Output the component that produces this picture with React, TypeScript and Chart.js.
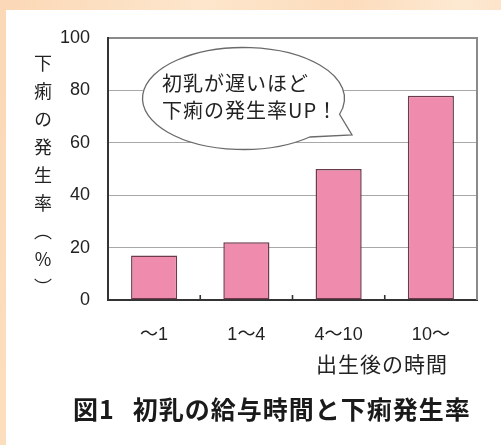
import React, { useEffect, useRef } from "react";
import { Chart, registerables } from "chart.js";

Chart.register(...registerables);

const categories = ["〜1", "1〜4", "4〜10", "10〜"];
const rates = [17, 22, 50, 78];
const yTicks = [0, 20, 40, 60, 80, 100];
const yTitle = "下痢の発生率（%）";
const xTitle = "出生後の時間";
const bubbleLines = ["初乳が遅いほど", "下痢の発生率UP！"];
const captionHead = "図1";
const captionBody = "初乳の給与時間と下痢発生率";

const decorPlugin = {
  id: "decor",
  afterDatasetsDraw(chart: any) {
    const { ctx, chartArea, scales } = chart;
    const x = scales.x;
    ctx.save();
    // right frame line
    ctx.strokeStyle = "#8a8a8a";
    ctx.lineWidth = 2;
    ctx.beginPath();
    ctx.moveTo(chartArea.right, chartArea.top - 1);
    ctx.lineTo(chartArea.right, chartArea.bottom);
    ctx.stroke();
    // inner ticks at category boundaries
    ctx.strokeStyle = "#333";
    ctx.lineWidth = 1.6;
    for (let i = 0; i < categories.length - 1; i++) {
      const bx = (x.getPixelForValue(i) + x.getPixelForValue(i + 1)) / 2;
      ctx.beginPath();
      ctx.moveTo(bx, chartArea.bottom - 5);
      ctx.lineTo(bx, chartArea.bottom);
      ctx.stroke();
    }
    // speech bubble
    const cx = 243.5, cy = 98.5, rx = 101, ry = 51;
    const a1 = (18 * Math.PI) / 180;
    const a2 = (49 * Math.PI) / 180;
    ctx.beginPath();
    ctx.ellipse(cx, cy, rx, ry, 0, a2, a1 + Math.PI * 2, false);
    ctx.lineTo(352, 135);
    ctx.closePath();
    ctx.fillStyle = "#ffffff";
    ctx.fill();
    ctx.strokeStyle = "#6a6a6a";
    ctx.lineWidth = 1.3;
    ctx.stroke();
    ctx.restore();
  },
};

export default function App() {
  const ref = useRef<HTMLCanvasElement | null>(null);

  useEffect(() => {
    if (!ref.current) return;
    const chart = new Chart(ref.current, {
      type: "bar",
      data: {
        labels: categories,
        datasets: [
          {
            data: rates,
            backgroundColor: "#ef8bac",
            borderColor: "#6b3b4b",
            borderWidth: 1.5,
            borderSkipped: false,
            barPercentage: 0.5,
            categoryPercentage: 1,
          },
        ],
      },
      options: {
        animation: false,
        responsive: false,
        devicePixelRatio: 1,
        layout: { padding: { top: 38, right: 24, left: 0, bottom: 0 } },
        plugins: { legend: { display: false }, tooltip: { enabled: false } },
        scales: {
          x: {
            afterFit(scale: any) {
              scale.height = 145;
            },
            grid: { display: false, drawTicks: false },
            border: { display: true, color: "#333", width: 2 },
            ticks: {
              padding: 24,
              color: "#222",
              font: { family: "'Liberation Sans', 'Noto Sans CJK JP', sans-serif", size: 18 },
            },
          },
          y: {
            min: 0,
            max: 100,
            afterFit(scale: any) {
              scale.width = 108;
            },
            afterBuildTicks(scale: any) {
              scale.ticks = yTicks.map((v) => ({ value: v }));
            },
            grid: {
              drawTicks: false,
              color: (c: any) => (c.tick && c.tick.value === 100 ? "#8a8a8a" : "#a8a8a8"),
              lineWidth: (c: any) => (c.tick && c.tick.value === 100 ? 2 : 1),
            },
            border: { display: true, color: "#333", width: 2 },
            ticks: {
              padding: 18,
              color: "#222",
              font: { family: "'Liberation Sans', sans-serif", size: 18 },
            },
          },
        },
      },
      plugins: [decorPlugin],
    } as any);
    return () => chart.destroy();
  }, []);

  const jp = "'Noto Sans CJK JP', sans-serif";

  return (
    <div
      style={{
        position: "fixed",
        left: 0,
        top: 0,
        width: 501,
        height: 445,
        overflow: "hidden",
        background:
          "linear-gradient(100deg, #fbd8b6 0%, #fde6cc 35%, #fcdcbc 60%, #fde9d2 80%, #fbd9b8 100%)",
      }}
    >
      <div
        style={{
          position: "absolute",
          left: 6,
          top: 10,
          right: 0,
          bottom: 0,
          background: "#ffffff",
        }}
      />
      <canvas
        ref={ref}
        width={501}
        height={445}
        style={{ position: "absolute", left: 0, top: 0, width: 501, height: 445 }}
      />
      <div
        style={{
          position: "absolute",
          left: 34,
          top: 54,
          width: 18,
          fontFamily: jp,
          fontSize: 18,
          lineHeight: "18px",
          color: "#222",
          writingMode: "vertical-rl",
          textOrientation: "upright",
          letterSpacing: 10,
        }}
      >
        {yTitle}
      </div>
      <div
        style={{
          position: "absolute",
          left: 162,
          top: 69,
          fontFamily: jp,
          fontSize: 20,
          lineHeight: "27px",
          letterSpacing: 1,
          color: "#222",
          whiteSpace: "pre",
        }}
      >
        {bubbleLines.join("\n")}
      </div>
      <div
        style={{
          position: "absolute",
          right: 501 - 448,
          top: 351,
          fontFamily: jp,
          fontSize: 21,
          lineHeight: "24px",
          letterSpacing: 1,
          color: "#222",
          whiteSpace: "nowrap",
        }}
      >
        {xTitle}
      </div>
      <div
        style={{
          position: "absolute",
          left: 73,
          top: 394,
          fontFamily: jp,
          fontWeight: 700,
          fontSize: 25,
          lineHeight: "28px",
          letterSpacing: 1,
          color: "#1a1a1a",
          whiteSpace: "nowrap",
        }}
      >
        {captionHead}
        <span style={{ marginLeft: 18 }}>{captionBody}</span>
      </div>
    </div>
  );
}
